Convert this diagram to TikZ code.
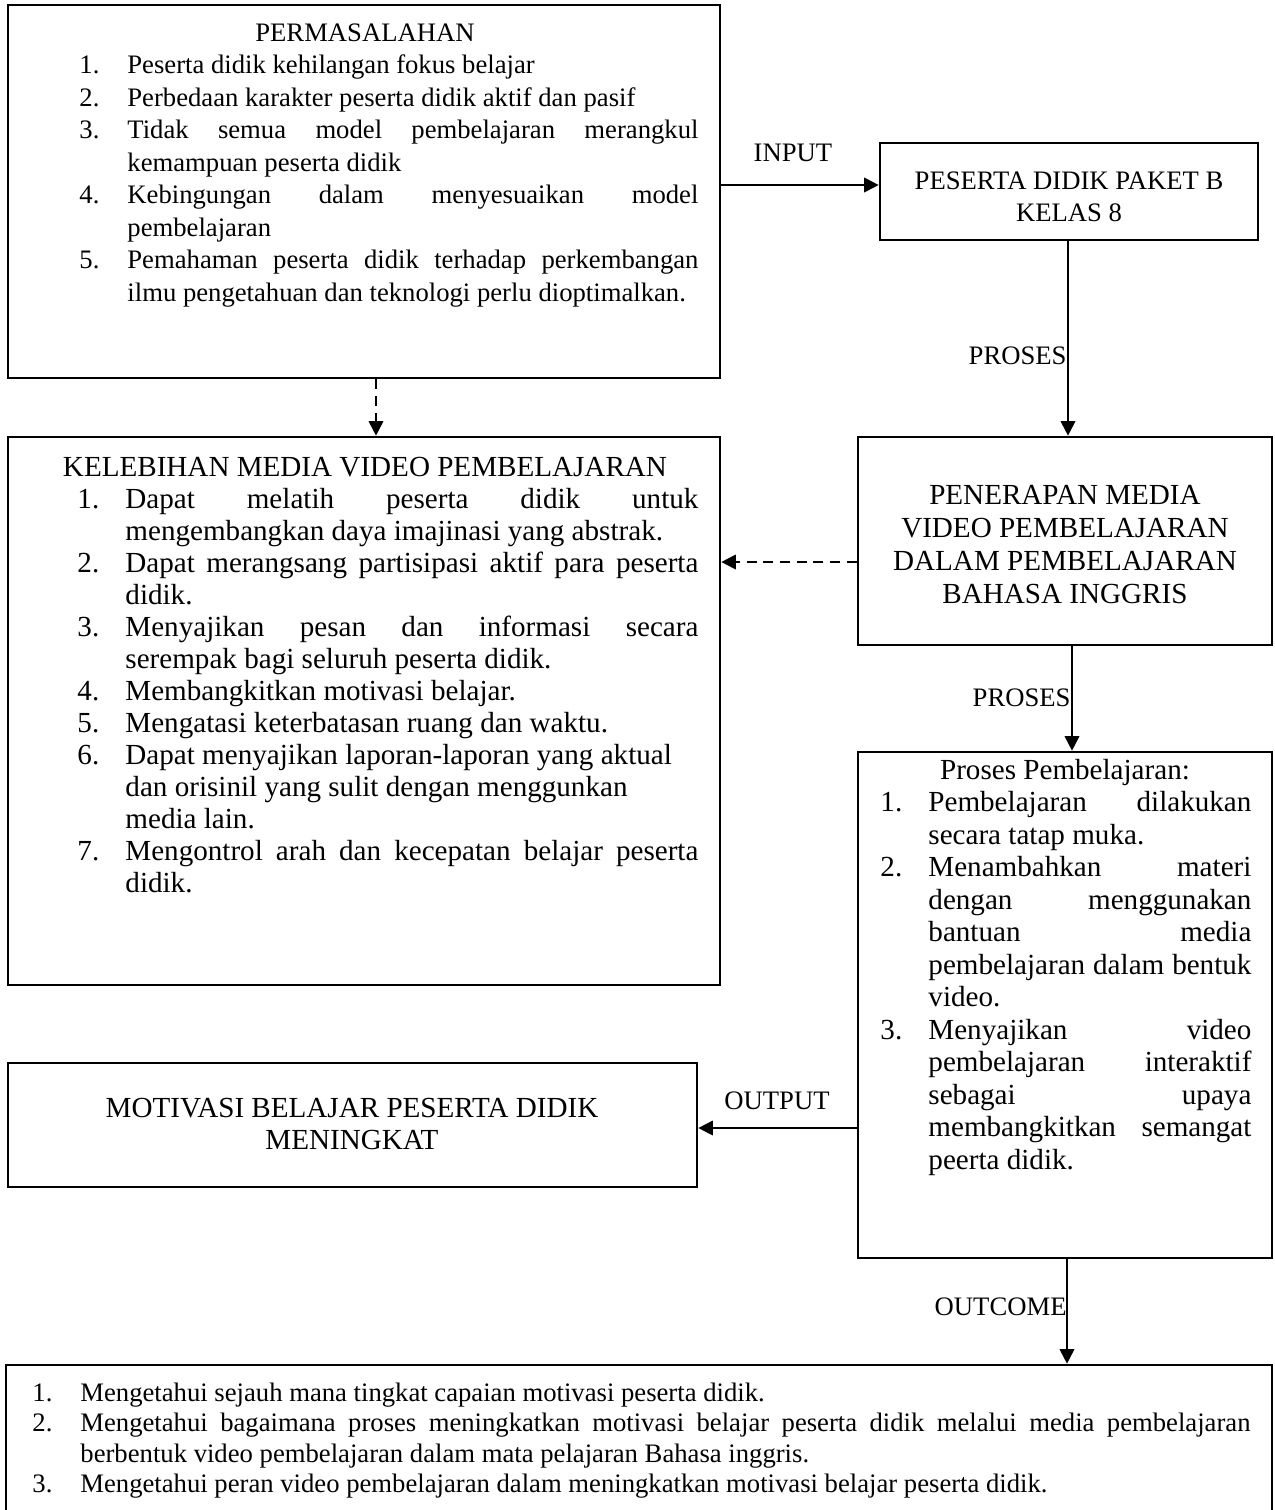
\documentclass[tikz,border=0pt]{standalone}
\usepackage{fontspec}
\setmainfont{Liberation Serif}
\usetikzlibrary{arrows.meta,fit}
\newdimen\px \px=0.45pt
\newcommand{\txblk}[3]{\vtop{\hsize=#1\baselineskip=#2\lineskiplimit=-100pt\lineskip=0pt\parindent=0pt\relax #3}}
\newcommand{\jln}[2]{\hbox to\hsize{\hbox to 48\px{#1\hfil}#2}}
\newcommand{\nln}[2]{\hbox to\hsize{\hbox to 48\px{#1\hfil}#2\hfil}}
\newcommand{\cln}[1]{\hbox to\hsize{\hfil #1\hfil}}
\newcommand{\fsm}{\fontsize{12pt}{14pt}\selectfont}
\newcommand{\flg}{\fontsize{13.1pt}{15pt}\selectfont}
\begin{document}
\begin{tikzpicture}[x=0.45pt,y=-0.45pt,
  box/.style={draw,line width=1.2pt,inner sep=0pt},
  txt/.style={inner sep=0pt,anchor=base west},
  ctxt/.style={inner sep=0pt,anchor=base},
  lbl/.style={inner sep=0pt,font=\fsm},
  arr/.style={line width=0.9pt,-{Triangle[length=6.5pt,width=6.5pt]}},
  dsh/.style={arr,dash pattern=on 4.5pt off 3pt}]
\useasboundingbox (0,0) rectangle (1275,1510);
\clip (0,0) rectangle (1275,1510);
\fill[white] (0,0) rectangle (1275,1510);

% ---- boxes ----
\node[box,fit={(8,5) (720,378)}] (b1) {};
\node[box,fit={(880,143) (1258,240)}] (pes) {};
\node[box,fit={(858,437) (1272,645)}] (pen) {};
\node[box,fit={(8,437) (720,985)}] (b2) {};
\node[box,fit={(858,752) (1272,1258)}] (proc) {};
\node[box,fit={(8,1063) (697,1187)}] (mot) {};
\node[box,fit={(6,1365) (1272,1540)}] (out) {};

% ---- box 1 text ----
\node[ctxt,font=\fsm] (t1h) at (365,41) {PERMASALAHAN};
\node[txt,font=\fsm] (t1) at (79,73.5) {\txblk{619\px}{32.5\px}{%
\nln{1.}{Peserta didik kehilangan fokus belajar}
\nln{2.}{Perbedaan karakter peserta didik aktif dan pasif}
\jln{3.}{Tidak semua model pembelajaran merangkul}
\nln{}{kemampuan peserta didik}
\jln{4.}{Kebingungan dalam menyesuaikan model}
\nln{}{pembelajaran}
\jln{5.}{Pemahaman peserta didik terhadap perkembangan}
\nln{}{ilmu pengetahuan dan teknologi perlu dioptimalkan.}}};

% ---- peserta ----
\node[ctxt,font=\fsm] (t2) at (1069,189) {\txblk{360\px}{32\px}{%
\cln{PESERTA DIDIK PAKET B}
\cln{KELAS 8}}};

% ---- penerapan ----
\node[ctxt,font=\flg] (t3) at (1065,504) {\txblk{400\px}{33\px}{%
\cln{PENERAPAN MEDIA}
\cln{VIDEO PEMBELAJARAN}
\cln{DALAM PEMBELAJARAN}
\cln{BAHASA INGGRIS}}};

% ---- box 2 text ----
\node[ctxt,font=\flg] (t4h) at (365,476) {KELEBIHAN MEDIA VIDEO PEMBELAJARAN};
\node[txt,font=\flg] (t4) at (77,508) {\txblk{621\px}{32\px}{%
\jln{1.}{Dapat melatih peserta didik untuk}
\nln{}{mengembangkan daya imajinasi yang abstrak.}
\jln{2.}{Dapat merangsang partisipasi aktif para peserta}
\nln{}{didik.}
\jln{3.}{Menyajikan pesan dan informasi secara}
\nln{}{serempak bagi seluruh peserta didik.}
\nln{4.}{Membangkitkan motivasi belajar.}
\nln{5.}{Mengatasi keterbatasan ruang dan waktu.}
\nln{6.}{Dapat menyajikan laporan-laporan yang aktual}
\nln{}{dan orisinil yang sulit dengan menggunkan}
\nln{}{media lain.}
\jln{7.}{Mengontrol arah dan kecepatan belajar peserta}
\nln{}{didik.}}};

% ---- proses box text ----
\node[ctxt,font=\flg] (t5h) at (1065,779) {Proses Pembelajaran:};
\node[txt,font=\flg] (t5) at (880,811.5) {\txblk{371\px}{32.5\px}{%
\jln{1.}{Pembelajaran dilakukan}
\nln{}{secara tatap muka.}
\jln{2.}{Menambahkan materi}
\jln{}{dengan menggunakan}
\jln{}{bantuan media}
\jln{}{pembelajaran dalam bentuk}
\nln{}{video.}
\jln{3.}{Menyajikan video}
\jln{}{pembelajaran interaktif}
\jln{}{sebagai upaya}
\jln{}{membangkitkan semangat}
\nln{}{peerta didik.}}};

% ---- motivasi ----
\node[ctxt,font=\flg] (t6) at (352,1117) {\txblk{600\px}{32\px}{%
\cln{MOTIVASI BELAJAR PESERTA DIDIK}
\cln{MENINGKAT}}};

% ---- outcome box text ----
\node[txt,font=\fsm] (t7) at (32,1401) {\txblk{1218\px}{30.5\px}{%
\nln{1.}{Mengetahui sejauh mana tingkat capaian motivasi peserta didik.}
\jln{2.}{Mengetahui bagaimana proses meningkatkan motivasi belajar peserta didik melalui media pembelajaran}
\nln{}{berbentuk video pembelajaran dalam mata pelajaran Bahasa inggris.}
\nln{3.}{Mengetahui peran video pembelajaran dalam meningkatkan motivasi belajar peserta didik.}}};

% ---- connector labels ----
\node[lbl,anchor=base] (linput) at (793,161) {INPUT};
\node[lbl,anchor=base east] (lpro1) at (1067,364) {PROSES};
\node[lbl,anchor=base east] (lpro2) at (1071,706) {PROSES};
\node[lbl,anchor=base] (loutput) at (777,1109) {OUTPUT};
\node[lbl,anchor=base east] (loutc) at (1067,1315) {OUTCOME};

% ---- helper coordinates ----
\coordinate (cin) at (800,185);
\coordinate (cp1) at (1068,300);
\coordinate (cp2) at (1072,700);
\coordinate (cd1) at (376,400);
\coordinate (cd2) at (790,562);
\coordinate (cop) at (780,1128);
\coordinate (coc) at (1067,1300);

% ---- connectors ----
\draw[arr] (b1.east |- cin) -- (pes.west |- cin);
\draw[arr] (pes.south -| cp1) -- (pen.north -| cp1);
\draw[dsh] (b1.south -| cd1) -- (b2.north -| cd1);
\draw[dsh] (pen.west |- cd2) -- (b2.east |- cd2);
\draw[arr] (pen.south -| cp2) -- (proc.north -| cp2);
\draw[arr] (proc.west |- cop) -- (mot.east |- cop);
\draw[arr] (proc.south -| coc) -- (out.north -| coc);
\end{tikzpicture}
\end{document}
